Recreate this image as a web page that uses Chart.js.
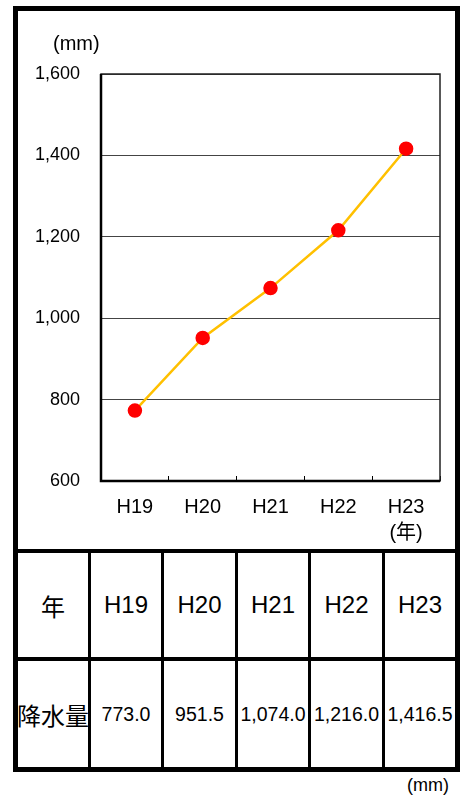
<!DOCTYPE html>
<html lang="ja">
<head>
<meta charset="utf-8">
<title>降水量</title>
<script src="https://cdn.jsdelivr.net/npm/chart.js@4/dist/chart.umd.min.js"></script>
<style>
  body { margin: 0; background: #fff; width: 465px; height: 797px; position: relative; overflow: hidden;
    font-family: 'Liberation Sans', 'Noto Sans CJK JP', sans-serif; color: #000; }
  #frame { position: absolute; left: 13px; top: 6px; width: 447px; height: 766px; border: 5px solid #000; box-sizing: border-box; }
  #chart { position: absolute; left: 18px; top: 11px; }
  #unitTop { position: absolute; left: 53px; top: 31px; font-size: 20px; line-height: 24px; }
  #unitBottom { position: absolute; left: 407px; top: 773px; font-size: 18px; line-height: 24px; }
  #table { position: absolute; left: 18px; top: 549px; width: 437px; height: 218px; border-top: 4px solid #000;
    box-sizing: border-box; display: grid; grid-template-columns: 73px 73px 74px 73px 74px 70px; grid-template-rows: 108px 106px; }
  #table div { box-sizing: border-box; display: flex; align-items: center; justify-content: center; white-space: nowrap; }
  #table .head { border-bottom: 4px solid #000; font-size: 24px; }
  #table .val { font-size: 19.5px; }
  #table .sep { border-right: 3px solid #000; }
  #table .jp { font-family: 'Noto Sans CJK JP', sans-serif; font-size: 24px; }
</style>
</head>
<body>
<div id="frame"></div>
<canvas id="chart" width="437" height="538"></canvas>
<div id="unitTop">(mm)</div>
<div id="table"></div>
<div id="unitBottom">(mm)</div>
<script>
'use strict';

// 年度と降水量 (mm)
const years = ['H19', 'H20', 'H21', 'H22', 'H23'];
const rainfall = [773.0, 951.5, 1074.0, 1216.0, 1416.5];

// 縦軸の目盛り
const yMin = 600;
const yMax = 1600;
const yStep = 200;

const fmt = v => v.toLocaleString('en-US', { minimumFractionDigits: 1, maximumFractionDigits: 1 });

// 表を作る
const table = document.getElementById('table');
const addCell = (text, cls) => {
  const d = document.createElement('div');
  d.className = cls;
  d.textContent = text;
  table.appendChild(d);
};
addCell('年', 'head sep jp');
years.forEach((y, i) => addCell(y, i < years.length - 1 ? 'head sep' : 'head'));
addCell('降水量', 'sep jp');
rainfall.forEach((v, i) => addCell(fmt(v), i < rainfall.length - 1 ? 'val sep' : 'val'));

// プロット枠
const frameBox = {
  id: 'frameBox',
  beforeDatasetsDraw(chart) {
    const { ctx, chartArea: a } = chart;
    ctx.save();
    ctx.strokeStyle = '#222';
    ctx.lineWidth = 1.5;
    ctx.strokeRect(a.left, a.top, a.right - a.left, a.bottom - a.top);
    ctx.strokeStyle = '#000';
    ctx.lineWidth = 2.5;
    ctx.beginPath();
    ctx.moveTo(a.left, a.top);
    ctx.lineTo(a.left, a.bottom);
    ctx.lineTo(a.right, a.bottom);
    ctx.stroke();
    ctx.restore();
  },
};

const font = "'Liberation Sans', 'Noto Sans CJK JP', sans-serif";

new Chart(document.getElementById('chart').getContext('2d'), {
  type: 'line',
  data: {
    labels: years.map((y, i) => (i === years.length - 1 ? [y, '(年)'] : y)),
    datasets: [
      {
        label: '降水量',
        data: rainfall,
        borderColor: '#FFC000',
        borderWidth: 2.5,
        pointBackgroundColor: '#FF0000',
        pointBorderColor: '#FF0000',
        pointRadius: 6,
        tension: 0,
      },
    ],
  },
  options: {
    responsive: false,
    animation: false,
    layout: { padding: { top: 63, right: 15, left: 0, bottom: 0 } },
    plugins: {
      legend: { display: false },
      tooltip: { enabled: false },
    },
    scales: {
      x: {
        offset: true,
        border: { display: false },
        grid: { offset: true, drawOnChartArea: false, drawTicks: true, tickLength: -5, color: '#000' },
        ticks: {
          color: '#000',
          padding: 19,
          autoSkip: false,
          maxRotation: 0,
          font: { family: font, size: 20, lineHeight: '25.5px' },
        },
        afterFit: scale => { scale.height = 68; },
      },
      y: {
        min: yMin,
        max: yMax,
        border: { display: false },
        grid: { color: '#444', lineWidth: 1, drawTicks: false },
        ticks: {
          stepSize: yStep,
          color: '#000',
          padding: 21,
          font: { family: font, size: 18 },
          callback: value => value.toLocaleString('en-US'),
        },
        afterFit: scale => { scale.width = 83; },
      },
    },
  },
  plugins: [frameBox],
});
</script>
</body>
</html>
